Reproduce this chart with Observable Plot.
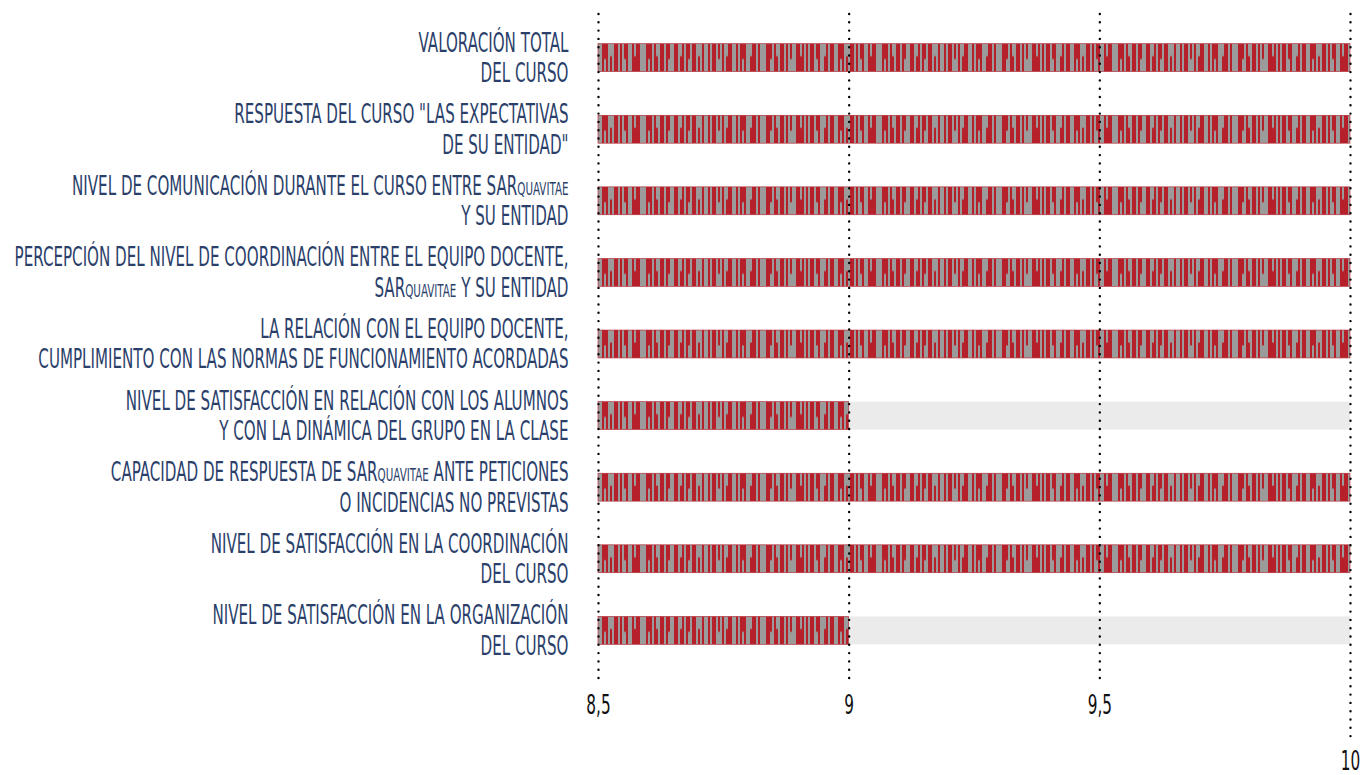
<!DOCTYPE html>
<html><head><meta charset="utf-8">
<script src="https://cdn.jsdelivr.net/npm/d3@7"></script>
<script src="https://cdn.jsdelivr.net/npm/@observablehq/plot@0.6"></script>
<style>body{margin:0;background:#fff}</style>
</head><body><div id="chart"></div>
<script>
const categories = [
  "VALORACIÓN TOTAL\nDEL CURSO",
  "RESPUESTA DEL CURSO \"LAS EXPECTATIVAS\nDE SU ENTIDAD\"",
  "NIVEL DE COMUNICACIÓN DURANTE EL CURSO ENTRE SARquavitae\nY SU ENTIDAD",
  "PERCEPCIÓN DEL NIVEL DE COORDINACIÓN ENTRE EL EQUIPO DOCENTE,\nSARquavitae Y SU ENTIDAD",
  "LA RELACIÓN CON EL EQUIPO DOCENTE,\nCUMPLIMIENTO CON LAS NORMAS DE FUNCIONAMIENTO ACORDADAS",
  "NIVEL DE SATISFACCIÓN EN RELACIÓN CON LOS ALUMNOS\nY CON LA DINÁMICA DEL GRUPO EN LA CLASE",
  "CAPACIDAD DE RESPUESTA DE SARquavitae ANTE PETICIONES\nO INCIDENCIAS NO PREVISTAS",
  "NIVEL DE SATISFACCIÓN EN LA COORDINACIÓN\nDEL CURSO",
  "NIVEL DE SATISFACCIÓN EN LA ORGANIZACIÓN\nDEL CURSO"
];
const values = [10, 10, 10, 10, 10, 9, 10, 10, 9];
const xDomain = [8.5, 10];
const ticksMain = [8.5, 9, 9.5];
const ticksEnd = [10];

const data = categories.map((c, i) => ({c, v: values[i]}));
const fmt = d => String(d).replace(".", ",");

// texture columns: r = red, g = grey, t = red top part, b = red bottom part
const texture = "rgrrgtgrgbrrggrgrtrggbrrgrgggrrtgrbgrrgrgtggrrbrgrgrrgtrggbrgrrggrtrgbgrrgrgtrggrbrrgggrtrgrbgrrgrtggrrgbrgrtgrrgbgrgg";
const RED = "#b5202a", GREY = "#9b9b9b";
const FONT = "'Liberation Sans Narrow', 'DejaVu Sans Condensed', sans-serif";
const STRETCH = 1.55;
const COL = 2;

const plot = Plot.plot({
  width: 1366, height: 775,
  marginLeft: 598, marginRight: 16, marginTop: 0, marginBottom: 87,
  x: {domain: xDomain, axis: null},
  y: {domain: categories, padding: 0.61, round: false, axis: null},
  style: {background: "#fff", fontFamily: FONT},
  marks: [
    Plot.barX(data, {y: "c", x1: xDomain[0], x2: xDomain[1], fill: "#ebebeb"}),
    Plot.barX(data, {y: "c", x1: xDomain[0], x2: "v", fill: "url(#tex)", stroke: RED, strokeWidth: 0.6}),
    Plot.ruleX(ticksMain, {x: d => d, insetTop: 14, insetBottom: 9, stroke: "#000", strokeWidth: 2.4, strokeDasharray: "0,8.3", strokeLinecap: "round"}),
    Plot.ruleX(ticksEnd, {x: d => d, insetTop: 14, insetBottom: -51, stroke: "#000", strokeWidth: 2.4, strokeDasharray: "0,8.3", strokeLinecap: "round"}),
    Plot.text(data, {y: "c", text: "c", frameAnchor: "left", dx: -30, dy: -1, textAnchor: "end", lineAnchor: "middle", lineHeight: 1.17, fontSize: 16.8, fontVariant: "small-caps", fill: "#2b3f6b"}),
    Plot.text(ticksMain, {x: d => d, text: d => fmt(d), frameAnchor: "bottom", dy: 17, lineAnchor: "middle", fontSize: 17, fill: "#111"}),
    Plot.text(ticksEnd, {x: d => d, text: d => fmt(d), frameAnchor: "bottom", dy: 73, lineAnchor: "middle", fontSize: 17, fill: "#111"})
  ]
});

// pattern definition for the textured bars
const ys = plot.scale("y");
const top0 = ys.apply(categories[0]);
const step = ys.apply(categories[1]) - top0;
const bw = ys.bandwidth;
const NS = "http://www.w3.org/2000/svg";
const defs = document.createElementNS(NS, "defs");
const pat = document.createElementNS(NS, "pattern");
pat.setAttribute("id", "tex");
pat.setAttribute("patternUnits", "userSpaceOnUse");
pat.setAttribute("x", 0);
pat.setAttribute("y", top0);
pat.setAttribute("width", texture.length * COL);
pat.setAttribute("height", step);
const bg = document.createElementNS(NS, "rect");
bg.setAttribute("width", texture.length * COL); bg.setAttribute("height", step); bg.setAttribute("fill", GREY);
pat.appendChild(bg);
[...texture].forEach((ch, i) => {
  if (ch === "g") return;
  const r = document.createElementNS(NS, "rect");
  r.setAttribute("x", i * COL); r.setAttribute("width", COL);
  const y0 = ch === "b" ? bw * 0.45 : 0;
  const h = ch === "r" ? bw : bw * 0.55;
  r.setAttribute("y", y0); r.setAttribute("height", h);
  r.setAttribute("fill", RED);
  pat.appendChild(r);
});
defs.appendChild(pat);
plot.insertBefore(defs, plot.firstChild);

// tall, narrow lettering: stretch each text vertically about its anchor
plot.querySelectorAll("text").forEach(t => {
  const tr = t.getAttribute("transform") || "";
  t.setAttribute("transform", tr + ` scale(1,${STRETCH})`);
});

document.getElementById("chart").appendChild(plot);
</script>
</body></html>
